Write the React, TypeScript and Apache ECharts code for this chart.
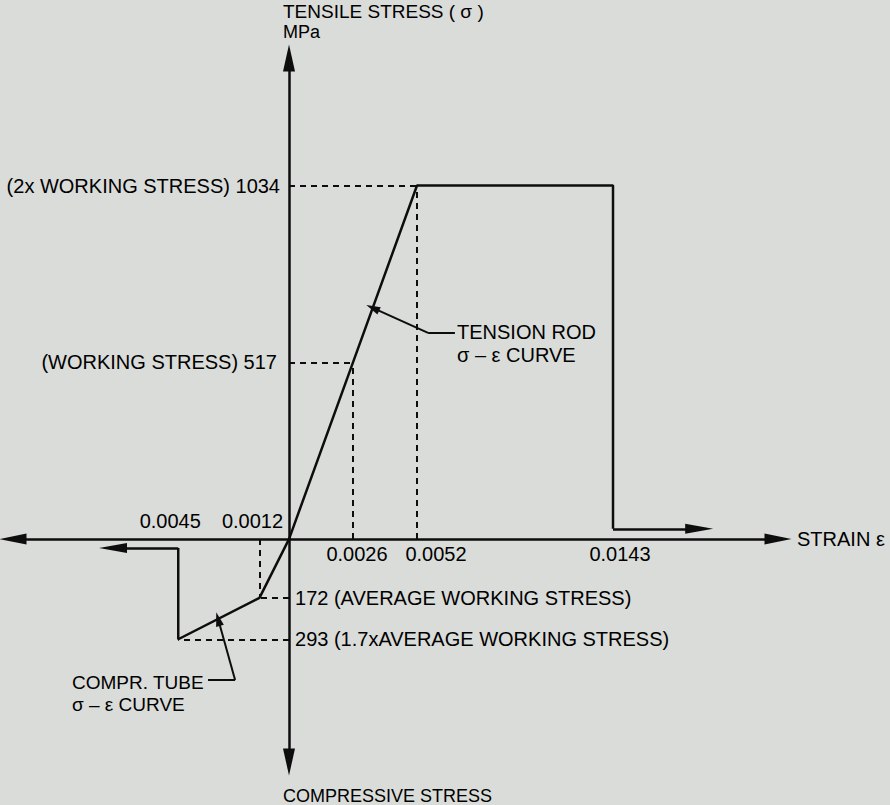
import React, { useEffect, useRef } from "react";
import * as echarts from "echarts";

// ---- data ----
const tensionStrain = [0, 0.0026, 0.0052, 0.0143, 0.0143];
const tensionStress = [0, 517, 1034, 1034, 30];
const tensionTail = [0.0178, 30];

const comprStrain = [0, -0.0012, -0.0045, -0.0045];
const comprStress = [0, -172, -293, -26];
const comprTail = [-0.00715, -26];

const stressTicks = [1034, 517, -172, -293];
const stressTickLabels = [
  "(2x WORKING STRESS) 1034",
  "(WORKING STRESS) 517",
  "172 (AVERAGE WORKING STRESS)",
  "293 (1.7xAVERAGE WORKING STRESS)",
];
const strainTicks = [-0.0045, -0.0012, 0.0026, 0.0052, 0.0143];
const strainTickLabels = ["0.0045", "0.0012", "0.0026", "0.0052", "0.0143"];

const rodLeaderStrain = [0.00674, 0.00565, 0.0034];
const rodLeaderStress = [603, 603, 676];
const tubeLeaderStrain = [-0.00329, -0.00219, -0.00288];
const tubeLeaderStress = [-412, -412, -234];

const INK = "#0d0d0d";
const TXT = "#000000";
const FONT = "Liberation Sans";

export default function App() {
  const ref = useRef<HTMLDivElement>(null);

  useEffect(() => {
    if (!ref.current) return;
    const chart = echarts.init(ref.current, null, { renderer: "svg" });

    const solid = { color: INK, width: 2.5, type: "solid" as const };
    const dashed = { color: INK, width: 2, type: [6, 5] as any };

    const seg = (a: number[], b: number[], style: any, endSymbol = "none") => [
      { coord: a, symbol: "none", lineStyle: style },
      { coord: b, symbol: endSymbol },
    ];

    const guides = (x: number, y: number, vertical: boolean) => {
      const out: any[] = [seg([0, y], [x, y], dashed)];
      if (vertical) out.push(seg([x, 0], [x, y], dashed));
      return out;
    };

    const leader = (xs: number[], ys: number[]) => {
      const out: any[] = [];
      for (let i = 0; i < xs.length - 1; i++) {
        out.push(
          seg([xs[i], ys[i]], [xs[i + 1], ys[i + 1]], { color: INK, width: 2, type: "solid" }, i === xs.length - 2 ? "triangle" : "none")
        );
      }
      return out;
    };

    const strainOffsets = [-8, -7, 4, 19, 7];
    const stressDist = [9, 12, 6, 6];

    const textStyle = { fontFamily: FONT, fontSize: 20, color: TXT, opacity: 1 };
    const gText = (x: number, y: number, text: string, size: number) => ({
      type: "text",
      x,
      y,
      silent: true,
      style: { text, font: `${size}px "${FONT}"`, fill: TXT, align: "left", verticalAlign: "middle" },
    });

    const hiddenAxisParts = {
      axisTick: { show: false },
      axisLabel: { show: false },
      splitLine: { show: false },
    };

    const option: any = {
      animation: false,
      backgroundColor: "#dadcd9",
      grid: { left: 13, top: 58, width: 765, height: 704, outerBoundsMode: "none", containLabel: false },
      xAxis: [
        {
          type: "value",
          min: -0.011213,
          max: 0.021003,
          breaks: [{ start: 0.0075, end: 0.0115, gap: 0.002863 }],
          breakArea: { show: false, expandOnClick: false },
          axisLine: { show: false },
          ...hiddenAxisParts,
        },
        {
          // strain axis line (drawn unbroken)
          type: "value",
          min: 0,
          max: 1,
          position: "bottom",
          axisLine: {
            show: true,
            onZero: true,
            onZeroAxisIndex: 0,
            symbol: ["triangle", "triangle"],
            symbolSize: [11, 27],
            lineStyle: { color: INK, width: 2.5 },
          },
          ...hiddenAxisParts,
        },
      ],
      yAxis: {
        type: "value",
        min: -652,
        max: 1407,
        axisLine: {
          show: true,
          onZero: true,
          onZeroAxisIndex: 0,
          symbol: ["triangle", "triangle"],
          symbolSize: [12, 27],
          lineStyle: { color: INK, width: 2.5 },
        },
        ...hiddenAxisParts,
      },
      series: [
        {
          type: "line",
          name: "Tension rod",
          data: tensionStrain.map((x, i) => [x, tensionStress[i]]),
          symbol: "none",
          lineStyle: solid,
          z: 5,
          markLine: {
            silent: true,
            symbolSize: [10, 28],
            label: { show: false },
            data: [
              seg([tensionStrain[4], tensionStress[4]], tensionTail, solid, "triangle"),
              ...guides(tensionStrain[2], tensionStress[2], true),
              ...guides(tensionStrain[1], tensionStress[1], true),
            ],
          },
        },
        {
          type: "line",
          name: "Tension rod leader",
          data: [],
          markLine: {
            silent: true,
            symbolSize: [8, 14],
            label: { show: false },
            data: leader(rodLeaderStrain, rodLeaderStress),
          },
        },
        {
          type: "line",
          name: "Compression tube",
          data: comprStrain.map((x, i) => [x, comprStress[i]]),
          symbol: "none",
          lineStyle: solid,
          z: 5,
          markLine: {
            silent: true,
            symbolSize: [10, 28],
            label: { show: false },
            data: [
              seg([comprStrain[3], comprStress[3]], comprTail, solid, "triangle"),
              ...guides(comprStrain[1], comprStress[1], true),
              ...guides(comprStrain[2], comprStress[2], false),
            ],
          },
        },
        {
          type: "line",
          name: "Compression tube leader",
          data: [],
          markLine: {
            silent: true,
            symbolSize: [8, 14],
            label: { show: false },
            data: leader(tubeLeaderStrain, tubeLeaderStress),
          },
        },
        {
          type: "scatter",
          name: "stress labels",
          symbolSize: 0,
          silent: true,
          itemStyle: { opacity: 1, color: TXT },
          label: { ...textStyle },
          data: stressTicks.map((v, i) => ({
            value: [0, v],
            label: {
              show: true,
              position: v > 0 ? "left" : "right",
              distance: stressDist[i],
              formatter: stressTickLabels[i],
              ...textStyle,
            },
          })),
        },
        {
          type: "scatter",
          name: "strain labels",
          symbolSize: 0,
          silent: true,
          itemStyle: { opacity: 1, color: TXT },
          label: { ...textStyle },
          data: strainTicks.map((v, i) => ({
            value: [v, 0],
            label: {
              show: true,
              position: v < 0 ? "top" : "bottom",
              distance: v < 0 ? 8 : 5,
              offset: [strainOffsets[i], 0],
              formatter: strainTickLabels[i],
              ...textStyle,
            },
          })),
        },
      ],
      graphic: [
        gText(283, 11, "TENSILE STRESS ( σ )", 19),
        gText(283, 32, "MPa", 18),
        gText(283, 796, "COMPRESSIVE STRESS", 18),
        gText(797, 539, "STRAIN ε", 20),
        gText(457, 332, "TENSION ROD", 20),
        gText(457, 355, "σ – ε CURVE", 20),
        gText(72, 682, "COMPR. TUBE", 19),
        gText(72, 704, "σ – ε CURVE", 19),
      ],
    };

    chart.setOption(option);
    return () => chart.dispose();
  }, []);

  return <div ref={ref} style={{ position: "fixed", left: 0, top: 0, width: 890, height: 805 }} />;
}
